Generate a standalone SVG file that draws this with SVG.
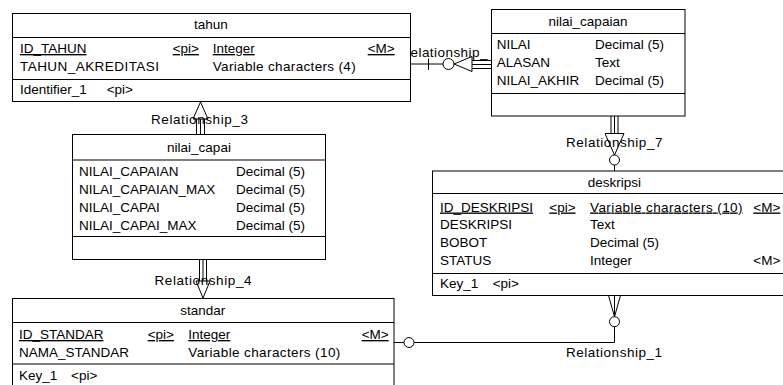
<svg xmlns="http://www.w3.org/2000/svg" width="783" height="385" viewBox="0 0 783 385">
<style>
text{font-family:"Liberation Sans",Arial,sans-serif;font-size:13.5px;fill:#000}
.t{text-anchor:middle}
.u{text-decoration:underline}
.box{fill:#fff;stroke:#000;stroke-width:1}
.ln{stroke:#000;stroke-width:1;fill:none}
.cf{stroke:#000;stroke-width:1;fill:#fff}
</style>
<rect width="783" height="385" fill="#fff"/>
<g id="connectors">
  <!-- Relationship_2: tahun - nilai_capaian -->
  <path class="ln" d="M410.5 64H443M428.5 58.5V70M472 60.5H491M472 64.5H491M472 68.5H491"/>
  <circle class="cf" cx="448.5" cy="64" r="5.5"/>
  <path class="cf" d="M454 64L472 56.5V71.5Z"/>
  <!-- Relationship_3: tahun - nilai_capai -->
  <path class="ln" d="M196.5 119V134.5M200.5 119V134.5M204.5 119V134.5"/>
  <path class="cf" d="M200.5 102L208 119H193Z"/>
  <!-- Relationship_4: nilai_capai - standar -->
  <path class="ln" d="M199.5 259.5V281M203 259.5V281M206.5 259.5V281"/>
  <path class="cf" d="M196 281H210L203 298Z"/>
  <!-- Relationship_7: nilai_capaian - deskripsi -->
  <path class="ln" d="M611 116V133.5M614.5 116V133.5M618 116V133.5M614.5 165V171"/>
  <circle class="cf" cx="614.5" cy="160" r="5"/>
  <path class="cf" d="M605 133.5H624L614.5 155Z"/>
  <!-- Relationship_1: standar - deskripsi -->
  <path class="ln" d="M394 342.5H404M414 342.5H614.5V326.7M614.5 316.7L608.5 295.5M614.5 316.7V295.5M614.5 316.7L620.5 295.5"/>
  <circle class="cf" cx="409" cy="342.5" r="5"/>
  <circle class="cf" cx="614.5" cy="321.7" r="5"/>
</g>
<g id="tahun">
  <rect class="box" x="12.5" y="13.5" width="398" height="88"/>
  <path class="ln" d="M12.5 37.5H410.5M12.5 79.5H410.5"/>
  <text class="t" x="211" y="29">tahun</text>
  <text class="u" x="20" y="53">ID_TAHUN</text>
  <text class="u" x="172.7" y="53">&lt;pi&gt;</text>
  <text class="u" x="212.7" y="53">Integer</text>
  <text class="u" x="367.7" y="53">&lt;M&gt;</text>
  <text x="20" y="71" textLength="139" lengthAdjust="spacing">TAHUN_AKREDITASI</text>
  <text x="212.7" y="71" textLength="143" lengthAdjust="spacing">Variable characters (4)</text>
  <text x="20" y="94">Identifier_1</text>
  <text x="106.7" y="94">&lt;pi&gt;</text>
</g>
<g id="nilai_capaian">
  <rect class="box" x="491.5" y="9.5" width="193.5" height="106.5"/>
  <path class="ln" d="M491.5 33.5H685M491.5 93.5H685"/>
  <text class="t" x="588" y="26">nilai_capaian</text>
  <text x="496.7" y="49">NILAI</text>
  <text x="595" y="49">Decimal (5)</text>
  <text x="496.7" y="66.5">ALASAN</text>
  <text x="595" y="66.5">Text</text>
  <text x="496.7" y="84.5">NILAI_AKHIR</text>
  <text x="595" y="84.5">Decimal (5)</text>
</g>
<g id="nilai_capai">
  <rect class="box" x="72.5" y="134.5" width="253" height="125"/>
  <path class="ln" d="M72.5 160H325.5M72.5 236.5H325.5"/>
  <text class="t" x="199" y="151.5">nilai_capai</text>
  <text x="79" y="176">NILAI_CAPAIAN</text>
  <text x="236" y="176">Decimal (5)</text>
  <text x="79" y="193.7">NILAI_CAPAIAN_MAX</text>
  <text x="236" y="193.7">Decimal (5)</text>
  <text x="79" y="211.5">NILAI_CAPAI</text>
  <text x="236" y="211.5">Decimal (5)</text>
  <text x="79" y="229.5">NILAI_CAPAI_MAX</text>
  <text x="236" y="229.5">Decimal (5)</text>
</g>
<g id="standar">
  <rect class="box" x="12.5" y="298.5" width="381.5" height="100"/>
  <path class="ln" d="M12.5 322.5H394M12.5 364H394"/>
  <text class="t" x="202.7" y="315">standar</text>
  <text class="u" x="19" y="339">ID_STANDAR</text>
  <text class="u" x="147.7" y="339">&lt;pi&gt;</text>
  <text class="u" x="188.3" y="339">Integer</text>
  <text class="u" x="361.7" y="339">&lt;M&gt;</text>
  <text x="19" y="356.5">NAMA_STANDAR</text>
  <text x="188.3" y="356.5" textLength="152" lengthAdjust="spacing">Variable characters (10)</text>
  <text x="19" y="380">Key_1</text>
  <text x="71" y="380">&lt;pi&gt;</text>
</g>
<g id="deskripsi">
  <rect class="box" x="432.5" y="171" width="370" height="124.5"/>
  <path class="ln" d="M432.5 193.5H802M432.5 273.5H802"/>
  <text class="t" x="614.3" y="187">deskripsi</text>
  <text class="u" x="440" y="211.5">ID_DESKRIPSI</text>
  <text class="u" x="549.3" y="211.5">&lt;pi&gt;</text>
  <text class="u" x="590" y="211.5" textLength="152.5" lengthAdjust="spacing">Variable characters (10)</text>
  <text class="u" x="753.3" y="211.5">&lt;M&gt;</text>
  <text x="440" y="229">DESKRIPSI</text>
  <text x="590" y="229">Text</text>
  <text x="440" y="247">BOBOT</text>
  <text x="590" y="247">Decimal (5)</text>
  <text x="440" y="265">STATUS</text>
  <text x="590" y="265">Integer</text>
  <text x="753.3" y="265">&lt;M&gt;</text>
  <text x="440" y="288">Key_1</text>
  <text x="492.7" y="288">&lt;pi&gt;</text>
</g>
<g id="labels">
  <text x="410.5" y="56.5" textLength="77" lengthAdjust="spacing">elationship_</text>
  <text x="151" y="124.3" textLength="97" lengthAdjust="spacing">Relationship_3</text>
  <text x="154.5" y="284.5" textLength="97" lengthAdjust="spacing">Relationship_4</text>
  <text x="566" y="146.5" textLength="96.5" lengthAdjust="spacing">Relationship_7</text>
  <text x="566" y="357" textLength="96" lengthAdjust="spacing">Relationship_1</text>
</g>
</svg>
